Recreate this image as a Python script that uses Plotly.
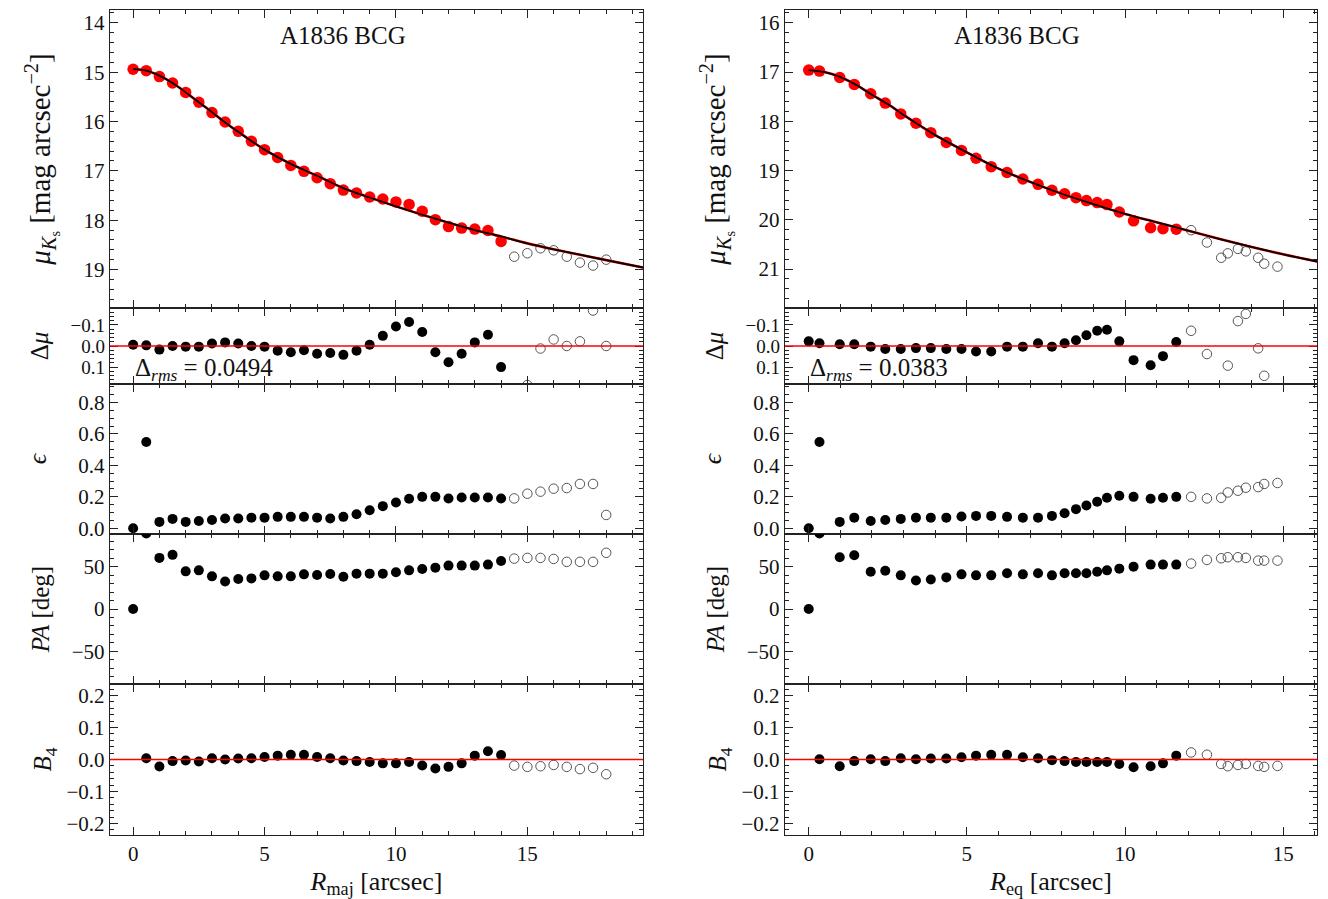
import plotly.graph_objects as go

# ---------------- LEFT COLUMN (R_maj) ----------------
L_R_fit = [0.0, 0.5, 1.0, 1.5, 2.0, 2.5, 3.0, 3.5, 4.0, 4.5, 5.0, 5.5, 6.0, 6.5, 7.0,
           7.5, 8.0, 8.5, 9.0, 9.5, 10.0, 10.5, 11.0, 11.5, 12.0, 12.5, 13.0, 13.5, 14.0]
L_mu_fit = [14.94, 14.97, 15.09, 15.22, 15.41, 15.61, 15.82, 16.01, 16.20, 16.40, 16.57, 16.73,
            16.89, 17.01, 17.14, 17.26, 17.39, 17.45, 17.53, 17.57, 17.63, 17.68, 17.82, 17.99,
            18.13, 18.16, 18.18, 18.21, 18.43]
L_R_out = [14.5, 15.0, 15.5, 16.0, 16.5, 17.0, 17.5, 18.0]
L_mu_out = [18.74, 18.67, 18.57, 18.61, 18.74, 18.86, 18.92, 18.80]

L_model_R = [0, 0.5, 1, 1.5, 2, 2.5, 3, 3.5, 4, 5, 6, 7, 8, 9, 10, 11, 12, 13, 14, 15, 16, 17, 18, 19.4]
L_model_mu = [14.94, 14.97, 15.07, 15.22, 15.41, 15.61, 15.81, 16.02, 16.21, 16.57, 16.86, 17.10,
              17.35, 17.54, 17.72, 17.89, 18.05, 18.20, 18.33, 18.47, 18.59, 18.70, 18.81, 18.96]

L_dmu_fit = [-0.006, -0.003, 0.017, 0.0, 0.003, 0.003, -0.012, -0.017, -0.012, 0.0, 0.003, 0.022,
             0.030, 0.020, 0.037, 0.033, 0.042, 0.022, -0.006, -0.048, -0.092, -0.114, -0.066,
             0.030, 0.077, 0.037, -0.017, -0.053, 0.100]
L_dmu_out = [0.34, 0.185, 0.012, -0.031, 0.0, -0.022, -0.168, 0.0]
L_rms = "0.0494"

L_eps_fit = [0.0, 0.548, 0.041, 0.060, 0.041, 0.047, 0.053, 0.062, 0.062, 0.068, 0.068, 0.073,
             0.073, 0.073, 0.068, 0.062, 0.073, 0.090, 0.115, 0.141, 0.164, 0.188, 0.200, 0.200,
             0.190, 0.196, 0.196, 0.196, 0.190]
L_eps_out = [0.190, 0.220, 0.233, 0.252, 0.256, 0.282, 0.282, 0.085]

L_pa_fit = [0.0, 89.0, 60.3, 63.9, 44.4, 45.6, 38.5, 32.5, 35.3, 36.1, 39.7, 38.5, 38.5, 40.9,
            40.1, 41.3, 38.1, 41.7, 41.7, 41.7, 43.3, 45.6, 47.2, 48.8, 51.2, 51.2, 51.2, 52.4, 56.7]
L_pa_out = [59.5, 60.3, 60.3, 59.1, 55.6, 55.6, 55.6, 66.3]

L_b4_fit = [0.004, -0.022, -0.005, -0.003, -0.006, 0.004, 0.0, 0.003, 0.004, 0.008, 0.012, 0.015,
            0.015, 0.008, 0.004, -0.003, -0.005, -0.008, -0.012, -0.012, -0.008, -0.019, -0.028,
            -0.023, -0.012, 0.012, 0.026, 0.014]
L_b4_out = [-0.019, -0.023, -0.021, -0.017, -0.023, -0.030, -0.026, -0.046]

# ---------------- RIGHT COLUMN (R_eq) ----------------
R_R_fit = [0.0, 0.34, 0.98, 1.44, 1.96, 2.42, 2.91, 3.39, 3.86, 4.35, 4.83, 5.29, 5.77, 6.27,
           6.77, 7.25, 7.69, 8.09, 8.45, 8.78, 9.12, 9.43, 9.82, 10.27, 10.81, 11.20, 11.62]
R_mu_fit = [16.96, 16.98, 17.11, 17.25, 17.44, 17.63, 17.85, 18.04, 18.23, 18.43, 18.59, 18.75,
            18.92, 19.04, 19.17, 19.28, 19.40, 19.47, 19.55, 19.61, 19.65, 19.69, 19.84, 20.02,
            20.16, 20.18, 20.19]
R_R_out = [12.09, 12.59, 13.04, 13.25, 13.57, 13.82, 14.21, 14.40, 14.82]
R_mu_out = [20.21, 20.46, 20.77, 20.68, 20.59, 20.64, 20.77, 20.89, 20.95]

R_model_R = [0, 0.5, 1, 1.5, 2, 2.5, 3, 3.5, 4, 5, 6, 7, 8, 9, 10, 11, 12, 13, 14, 15, 16.1]
R_model_mu = [16.96, 17.00, 17.10, 17.26, 17.46, 17.65, 17.87, 18.08, 18.28, 18.63, 18.96, 19.23,
              19.47, 19.68, 19.88, 20.05, 20.22, 20.39, 20.55, 20.70, 20.85]

R_dmu_fit = [-0.022, -0.013, -0.008, -0.008, 0.003, 0.014, 0.014, 0.010, 0.010, 0.014, 0.014,
             0.026, 0.026, 0.003, 0.003, -0.013, 0.003, -0.013, -0.027, -0.051, -0.072, -0.077,
             -0.022, 0.067, 0.091, 0.048, -0.019]
R_dmu_out = [-0.072, 0.038, 0.34, 0.093, -0.118, -0.152, 0.011, 0.141, 0.25]
R_rms = "0.0383"

R_eps_fit = [0.0, 0.548, 0.041, 0.068, 0.047, 0.053, 0.060, 0.068, 0.068, 0.068, 0.075, 0.079,
             0.079, 0.073, 0.068, 0.068, 0.079, 0.096, 0.122, 0.145, 0.169, 0.194, 0.207, 0.200,
             0.188, 0.194, 0.200]
R_eps_out = [0.200, 0.190, 0.194, 0.228, 0.239, 0.258, 0.262, 0.282, 0.288]

R_pa_fit = [0.0, 89.0, 61.1, 63.5, 44.0, 45.2, 39.7, 33.7, 34.9, 37.3, 40.9, 39.7, 39.7, 42.1,
            40.9, 42.1, 39.7, 42.1, 42.1, 42.1, 44.0, 45.6, 47.6, 50.0, 52.4, 52.4, 52.4]
R_pa_out = [53.6, 57.9, 59.9, 61.1, 61.1, 60.3, 57.1, 57.1, 57.1]

R_b4_fit = [0.001, -0.021, -0.005, 0.001, -0.005, 0.004, 0.001, 0.003, 0.003, 0.007, 0.012,
            0.015, 0.015, 0.007, 0.004, -0.002, -0.005, -0.008, -0.008, -0.008, -0.008, -0.014,
            -0.024, -0.021, -0.012, 0.012]
R_b4_out = [0.022, 0.015, -0.014, -0.021, -0.017, -0.014, -0.020, -0.023, -0.020]

TITLE = "A1836 BCG"

# ---------------- FIGURE ----------------
FONT = "Liberation Serif, DejaVu Serif, serif"
OFF = 8                      # page body margin of the html
W, H = 1328 - OFF, 899 - OFF
fig = go.Figure()

# panel edges in screen pixels
col_px = [(110, 643), (785, 1317)]
row_px = [(10, 308), (308, 384), (384, 534), (534, 684), (684, 835)]
xranges = [[-0.88, 19.4], [-0.75, 16.07]]
yranges_top = [[19.78, 13.74], [21.79, 15.74]]
xtitles = ["<i>R</i><sub>maj</sub> [arcsec]", "<i>R</i><sub>eq</sub> [arcsec]"]


def ref(kind, n):
    return kind if n == 1 else f"{kind}{n}"


def add_pts(x, y, n, style):
    if style == "red":
        marker = dict(color="red", size=11.5, line=dict(width=0))
    elif style == "black":
        marker = dict(color="black", size=10, line=dict(width=0))
    else:
        marker = dict(color="rgba(255,255,255,0)", size=9.5, line=dict(color="#555555", width=1))
    fig.add_trace(go.Scatter(x=x, y=y, mode="markers", marker=marker,
                             xaxis=ref("x", n), yaxis=ref("y", n),
                             showlegend=False, hoverinfo="skip"))


cols = [
    dict(Rf=L_R_fit, muf=L_mu_fit, Ro=L_R_out, muo=L_mu_out, mR=L_model_R, mmu=L_model_mu,
         dmf=L_dmu_fit, dmo=L_dmu_out, ef=L_eps_fit, eo=L_eps_out, pf=L_pa_fit, po=L_pa_out,
         bf=L_b4_fit, bo=L_b4_out, rms=L_rms),
    dict(Rf=R_R_fit, muf=R_mu_fit, Ro=R_R_out, muo=R_mu_out, mR=R_model_R, mmu=R_model_mu,
         dmf=R_dmu_fit, dmo=R_dmu_out, ef=R_eps_fit, eo=R_eps_out, pf=R_pa_fit, po=R_pa_out,
         bf=R_b4_fit, bo=R_b4_out, rms=R_rms),
]

axis_common = dict(showline=True, linecolor="#222222", linewidth=1.4, mirror="allticks",
                   ticks="inside", ticklen=8, tickwidth=1.3, tickcolor="#222222",
                   showgrid=False, zeroline=False, automargin=False,
                   tickfont=dict(family=FONT, size=21, color="#111111"))

layout = dict(width=W, height=H, margin=dict(l=0, r=0, t=0, b=0, autoexpand=False),
              paper_bgcolor="white", plot_bgcolor="white",
              font=dict(family=FONT, size=21, color="#111111"),
              showlegend=False, shapes=[], annotations=[])

ytitles = ["<i>μ</i><sub><i>K</i><sub>s</sub></sub> [mag arcsec<sup>−2</sup>]",
           "Δ<i>μ</i>", "<i>ϵ</i>", "<i>PA</i> [deg]", "<i>B</i><sub>4</sub>"]
ysizes = [29, 25, 26, 25, 25]
ystand = [24, 14, 24, 15, 7]


def minor(d0):
    return dict(ticks="inside", ticklen=4, tickwidth=1, tickcolor="#222222",
                tick0=0, dtick=d0, showgrid=False)


for c, d in enumerate(cols):
    x0p, x1p = col_px[c]
    xdom = [(x0p - OFF) / W, (x1p - OFF) / W]
    base = c * 5
    bottom_n = base + 5
    for r in range(5):
        n = base + r + 1
        t, b = row_px[r]
        ydom = [1 - (b - OFF) / H, 1 - (t - OFF) / H]
        xa = dict(axis_common, domain=xdom, anchor=ref("y", n), range=xranges[c],
                  tick0=0, dtick=5, minor=minor(1), showticklabels=(r == 4))
        if n != bottom_n:
            xa["matches"] = ref("x", bottom_n)
        if r == 4:
            xa["title"] = dict(text=xtitles[c], font=dict(family=FONT, size=26), standoff=20)
        ya = dict(axis_common, domain=ydom, anchor=ref("x", n),
                  title=dict(text=ytitles[r], font=dict(family=FONT, size=ysizes[r]),
                             standoff=ystand[r]))
        if r == 0:
            ya.update(range=yranges_top[c], tick0=0, dtick=1, minor=minor(0.2))
        elif r == 1:
            ya.update(range=[0.18, -0.18], tickvals=[-0.1, 0.0, 0.1], tickformat=".1f",
                      tickfont=dict(family=FONT, size=19, color="#111111"),
                      minor=minor(0.02))
        elif r == 2:
            ya.update(range=[-0.036, 0.917], tick0=0, dtick=0.2, tickformat=".1f",
                      minor=minor(0.05))
        elif r == 3:
            ya.update(range=[-88.5, 88.5], tick0=0, dtick=50, minor=minor(10))
        else:
            ya.update(range=[-0.236, 0.236], tick0=0, dtick=0.1, tickformat=".1f",
                      minor=minor(0.02))
        layout["xaxis" if n == 1 else f"xaxis{n}"] = xa
        layout["yaxis" if n == 1 else f"yaxis{n}"] = ya

    n1, n2, n3, n4, n5 = base + 1, base + 2, base + 3, base + 4, base + 5
    # surface brightness profile + model
    fig.add_trace(go.Scatter(x=d["mR"], y=d["mmu"], mode="lines",
                             line=dict(color="red", width=2.6, shape="spline"),
                             xaxis=ref("x", n1), yaxis=ref("y", n1), showlegend=False, hoverinfo="skip"))
    add_pts(d["Rf"], d["muf"], n1, "red")
    add_pts(d["Ro"], d["muo"], n1, "open")
    fig.add_trace(go.Scatter(x=d["mR"], y=d["mmu"], mode="lines",
                             line=dict(color="black", width=1.8, shape="spline"),
                             xaxis=ref("x", n1), yaxis=ref("y", n1), showlegend=False, hoverinfo="skip"))
    # residuals
    add_pts(d["Rf"], d["dmf"], n2, "black")
    add_pts(d["Ro"], d["dmo"], n2, "open")
    # ellipticity
    add_pts(d["Rf"], d["ef"], n3, "black")
    add_pts(d["Ro"], d["eo"], n3, "open")
    # PA
    add_pts(d["Rf"], d["pf"], n4, "black")
    add_pts(d["Ro"], d["po"], n4, "open")
    # B4
    add_pts(d["Rf"][1:], d["bf"], n5, "black")
    add_pts(d["Ro"], d["bo"], n5, "open")

    for n in (n2, n5):
        layout["shapes"].append(dict(type="line", xref=f"{ref('x', n)} domain", x0=0, x1=1,
                                     yref=ref("y", n), y0=0, y1=0,
                                     line=dict(color="red", width=1.6), layer="above"))

    layout["annotations"].append(dict(text=TITLE, xref=f"{ref('x', n1)} domain", yref=f"{ref('y', n1)} domain",
                                      x=0.437, y=0.915, xanchor="center", yanchor="middle", showarrow=False,
                                      font=dict(family=FONT, size=25, color="#111111")))
    layout["annotations"].append(dict(text=f"Δ<sub><i>rms</i></sub> = {d['rms']}",
                                      xref=f"{ref('x', n2)} domain", yref=f"{ref('y', n2)} domain",
                                      x=0.044, y=0.19, xanchor="left", yanchor="middle", showarrow=False,
                                      font=dict(family=FONT, size=25, color="#111111")))

fig.update_layout(**layout)
fig.write_html("out.html")
